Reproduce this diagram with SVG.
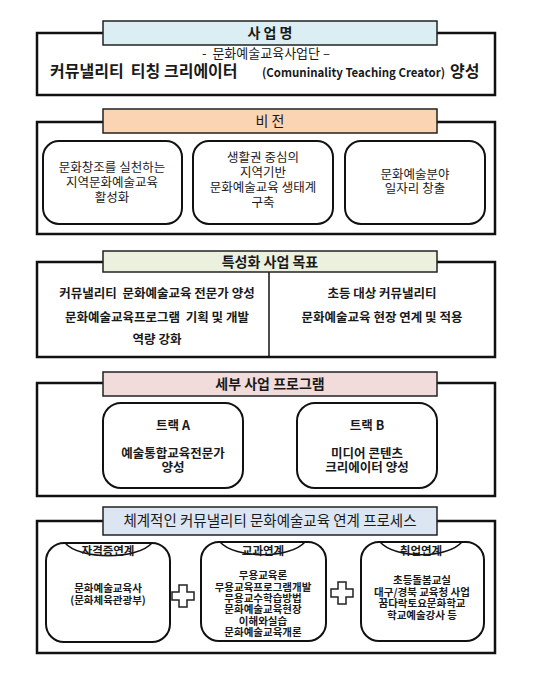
<svg xmlns="http://www.w3.org/2000/svg" width="538" height="684" viewBox="0 0 538 684" xml:space="preserve">
<style>
text{font-family:"Noto Sans CJK KR","Noto Sans",sans-serif;fill:#1a1a1a;text-anchor:middle;white-space:pre}
.frame{fill:#fff;stroke:#111;stroke-width:2.5}
.hdr{stroke:#222;stroke-width:1.5}
.rbox{fill:#fff;stroke:#111;stroke-width:2}
.h{font-size:14px;font-weight:bold}
.hn{font-size:14px}
.v{font-size:12.5px}
.g{font-size:12.5px;font-weight:bold}
.t{font-size:12.5px;font-weight:bold}
.s{font-size:10.5px;font-weight:bold}
.lab{font-size:11.5px;font-weight:bold}
.plus{fill:#fff;stroke:#222;stroke-width:1.5}
.arc{fill:none;stroke:#111;stroke-width:1.5}
</style>
<rect width="538" height="684" fill="#fff"/>
<g id="sec-name">
<rect class="frame" x="37" y="33" width="458" height="62"/>
<rect class="hdr" x="103" y="21" width="334" height="24" fill="#DBEEF3"/>
<text class="h" x="270" y="38">사 업 명</text>
<text x="266" y="58" style="font-size:13px">-  문화예술교육사업단 –</text>
<text x="50" y="77" style="text-anchor:start;font-size:16px;font-weight:bold">커뮤낼리티  티칭 크리에이터</text>
<text x="262" y="77" textLength="183" lengthAdjust="spacingAndGlyphs" style="text-anchor:start;font-size:12px;font-weight:bold">(Comuninality Teaching Creator)</text>
<text x="450" y="77" style="text-anchor:start;font-size:16px;font-weight:bold">양성</text>
</g>
<g id="sec-vision">
<rect class="frame" x="37" y="122" width="458" height="112"/>
<rect class="hdr" x="103" y="109" width="334" height="24" fill="#FBD4B4"/>
<text class="hn" x="270" y="126">비 전</text>
<g id="vision-1">
<rect class="rbox" x="43" y="141" width="139" height="83" rx="16"/>
<text class="v" x="112" y="172">문화창조를 실천하는</text>
<text class="v" x="112" y="187">지역문화예술교육</text>
<text class="v" x="112" y="202">활성화</text>
</g>
<g id="vision-2">
<rect class="rbox" x="193" y="141" width="140" height="83" rx="16"/>
<text class="v" x="263" y="162">생활권 중심의</text>
<text class="v" x="263" y="177">지역기반</text>
<text class="v" x="263" y="192">문화예술교육 생태계</text>
<text class="v" x="263" y="207">구축</text>
</g>
<g id="vision-3">
<rect class="rbox" x="345" y="141" width="140" height="83" rx="16"/>
<text class="v" x="415" y="179">문화예술분야</text>
<text class="v" x="415" y="193">일자리 창출</text>
</g>
</g>
<g id="sec-goal">
<rect class="frame" x="37" y="262" width="458" height="95"/>
<line x1="269" y1="272" x2="269" y2="357" stroke="#111" stroke-width="1.5"/>
<rect class="hdr" x="103" y="251" width="334" height="21" fill="#EBF1DE"/>
<text class="h" x="270" y="267">특성화 사업 목표</text>
<g id="goal-left">
<text class="g" x="157" y="298">커뮤낼리티  문화예술교육 전문가 양성</text>
<text class="g" x="157" y="322">문화예술교육프로그램  기획 및 개발</text>
<text class="g" x="157" y="344">역량 강화</text>
</g>
<g id="goal-right">
<text class="g" x="382" y="298">초등 대상 커뮤낼리티</text>
<text class="g" x="382" y="322">문화예술교육 현장 연계 및 적용</text>
</g>
</g>
<g id="sec-program">
<rect class="frame" x="37" y="383" width="458" height="113"/>
<rect class="hdr" x="103" y="372" width="334" height="24" fill="#F2DCDB"/>
<text class="h" x="270" y="389">세부 사업 프로그램</text>
<g id="track-a">
<rect class="rbox" x="103" y="403" width="140" height="85" rx="18"/>
<text class="t" x="173" y="430">트랙 A</text>
<text class="t" x="173" y="458">예술통합교육전문가</text>
<text class="t" x="173" y="472">양성</text>
</g>
<g id="track-b">
<rect class="rbox" x="297" y="403" width="140" height="85" rx="18"/>
<text class="t" x="367" y="430">트랙 B</text>
<text class="t" x="367" y="458">미디어 콘텐츠</text>
<text class="t" x="367" y="472">크리에이터 양성</text>
</g>
</g>
<g id="sec-process">
<rect class="frame" x="37" y="521" width="458" height="132"/>
<rect class="hdr" x="103" y="507" width="334" height="28" fill="#DCE6F2"/>
<text x="270" y="526" style="font-size:14.5px">체계적인 커뮤낼리티 문화예술교육 연계 프로세스</text>
<g id="proc-cert">
<rect class="rbox" x="46" y="543" width="124" height="99" rx="18"/>
<path class="arc" d="M65,543 C80,560 137,560 152,543"/>
<text class="lab" x="108" y="555">자격증연계</text>
<text class="s" x="108" y="592">문화예술교육사</text>
<text class="s" x="108" y="604">(문화체육관광부)</text>
</g>
<g id="proc-course">
<rect class="rbox" x="201" y="542" width="125" height="99" rx="18"/>
<path class="arc" d="M220,542 C235,559 290,559 305,542"/>
<text class="lab" x="263" y="555">교과연계</text>
<text class="s" x="263" y="579">무용교육론</text>
<text class="s" x="263" y="591">무용교육프로그램개발</text>
<text class="s" x="263" y="602">무용교수학습방법</text>
<text class="s" x="263" y="613">문화예술교육현장</text>
<text class="s" x="263" y="625">이해와실습</text>
<text class="s" x="263" y="636">문화예술교육개론</text>
</g>
<g id="proc-job">
<rect class="rbox" x="361" y="542" width="123" height="99" rx="18"/>
<path class="arc" d="M380,542 C395,559 447,559 462,542"/>
<text class="lab" x="421" y="555">취업연계</text>
<text class="s" x="422" y="584">초등돌봄교실</text>
<text class="s" x="422" y="596">대구/경북 교육청 사업</text>
<text class="s" x="422" y="607">꿈다락토요문화학교</text>
<text class="s" x="422" y="619">학교예술강사 등</text>
</g>
<g id="connectors">
<path class="plus" d="M179,585 h8 v7 h7 v8 h-7 v7 h-8 v-7 h-7 v-8 h7 z"/>
<path class="plus" d="M338,582 h8 v7 h7 v8 h-7 v7 h-8 v-7 h-7 v-8 h7 z"/>
</g>
</g>
</svg>
